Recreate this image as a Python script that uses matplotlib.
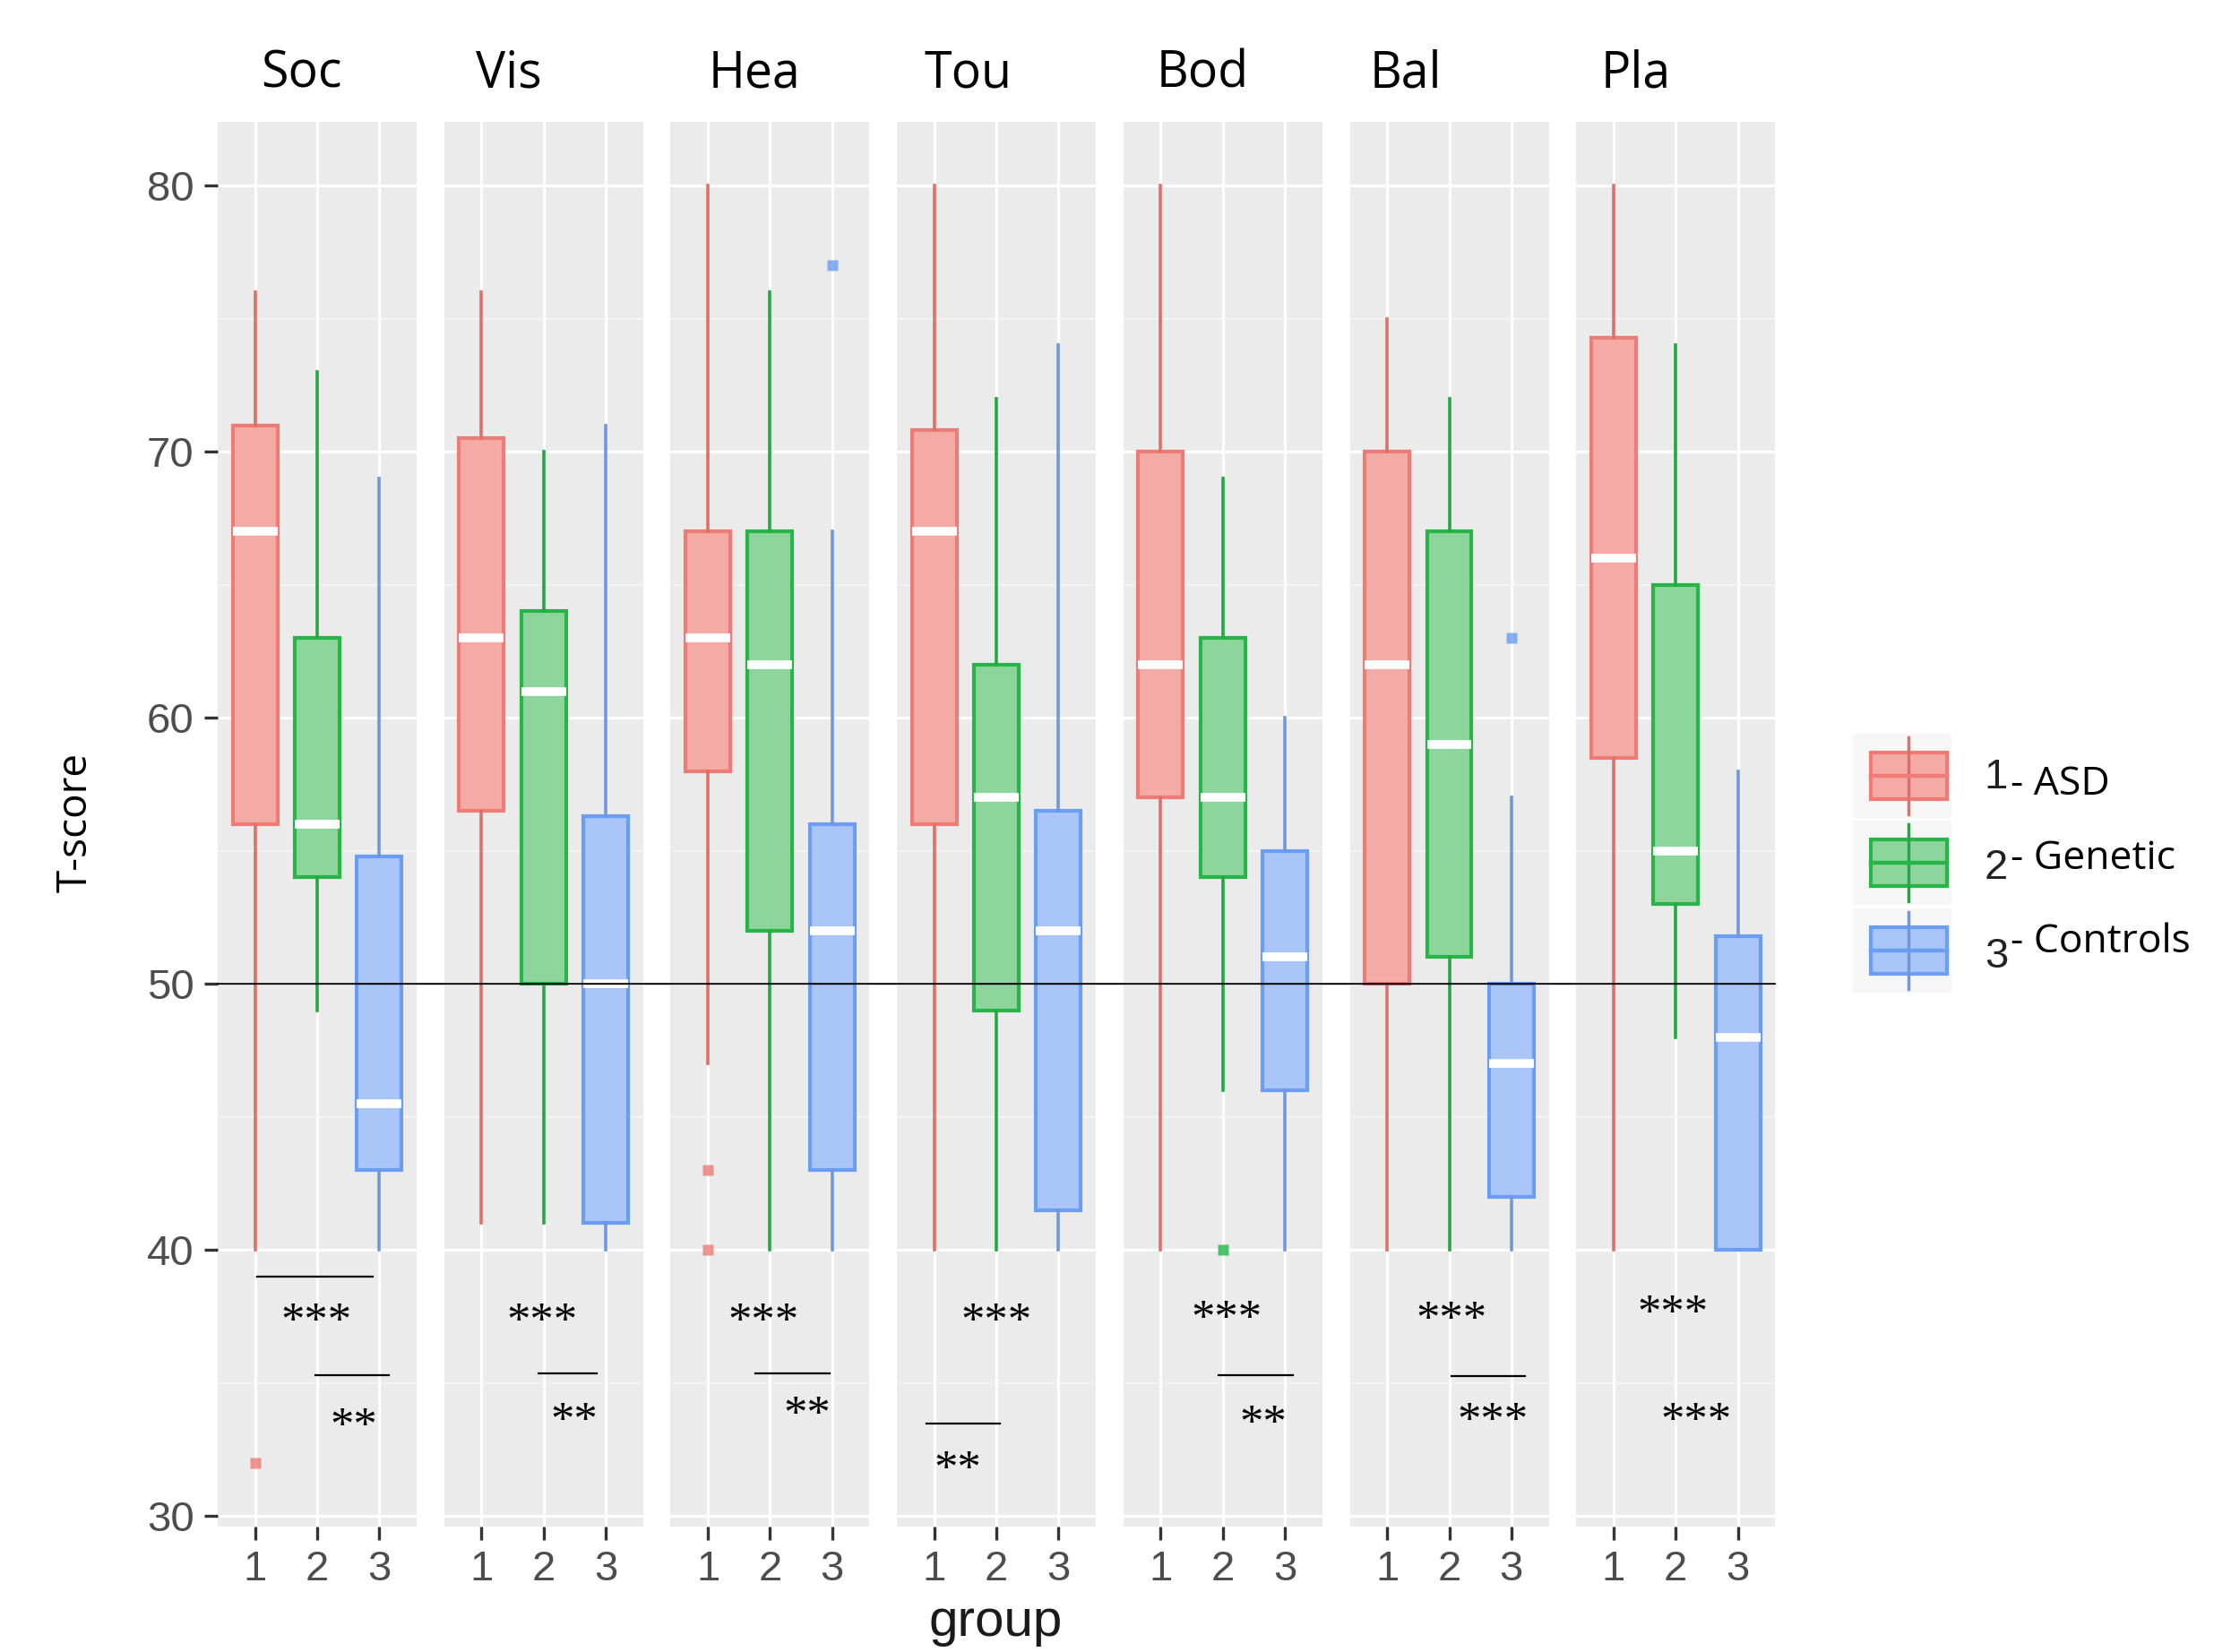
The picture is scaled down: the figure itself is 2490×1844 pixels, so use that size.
import matplotlib
matplotlib.use("Agg")
import matplotlib.pyplot as plt
from matplotlib.patches import Rectangle, ConnectionPatch
from matplotlib.ticker import MultipleLocator

subscales = ["Soc", "Vis", "Hea", "Tou", "Bod", "Bal", "Pla"]
groups = ["1", "2", "3"]
group_names = ["- ASD", "- Genetic", "- Controls"]

# box statistics, one row per subscale, columns = group 1, 2, 3
whis_hi = [[76, 73, 69], [76, 70, 71], [80, 76, 67], [80, 72, 74],
           [80, 69, 60], [75, 72, 57], [80, 74, 58]]
q3 = [[71, 63, 54.8], [70.5, 64, 56.3], [67, 67, 56], [70.8, 62, 56.5],
      [70, 63, 55], [70, 67, 50], [74.3, 65, 51.8]]
median = [[67, 56, 45.5], [63, 61, 50], [63, 62, 52], [67, 57, 52],
          [62, 57, 51], [62, 59, 47], [66, 55, 48]]
q1 = [[56, 54, 43], [56.5, 50, 41], [58, 52, 43], [56, 49, 41.5],
      [57, 54, 46], [50, 51, 42], [58.5, 53, 40]]
whis_lo = [[40, 49, 40], [41, 41, 40], [47, 40, 40], [40, 40, 40],
           [40, 46, 40], [40, 40, 40], [40, 48, 40]]
outliers = [[[32], [], []], [[], [], []], [[43, 40], [], [77]], [[], [], []],
            [[], [40], []], [[], [], [63]], [[], [], []]]

# significance marks (panel, text, x, y) and bars (panel, x0, x1, y)
sig_text = [(0, "***", 1.98, 37.7), (0, "**", 2.59, 33.75),
            (1, "***", 1.98, 37.7), (1, "**", 2.49, 33.95),
            (2, "***", 1.90, 37.7), (2, "**", 2.60, 34.2),
            (3, "***", 2.00, 37.7), (3, "**", 1.37, 32.15),
            (4, "***", 2.06, 37.8), (4, "**", 2.65, 33.85),
            (5, "***", 2.04, 37.75), (5, "***", 2.70, 33.95),
            (6, "***", 1.96, 38.0), (6, "***", 2.33, 33.95)]
sig_bars = [(0, 1.03, 2.89, 39.0), (0, 1.97, 3.15, 35.3),
            (1, 1.92, 2.86, 35.35), (2, 1.76, 2.96, 35.35),
            (3, 0.88, 2.06, 33.47), (4, 1.93, 3.12, 35.3),
            (5, 2.04, 3.22, 35.25)]

fill = ["#F4ABA6", "#8DD59C", "#AAC5F8"]
edge = ["#EC7C75", "#27B548", "#6B9DF2"]
whisk = ["#DC716A", "#25A844", "#6F97DB"]

W, H = 2490, 1844
fig = plt.figure(figsize=(W / 100, H / 100), dpi=100)

axes = []
for i, name in enumerate(subscales):
    ax = fig.add_axes([(243 + i * 252.7) / W, 1 - 1704 / H, 222 / W, (1704 - 136) / H])
    ax.set_facecolor("#EBEBEB")
    for s in ax.spines.values():
        s.set_visible(False)
    ax.set_xlim(0.4, 3.6)
    ax.set_ylim(29.6, 82.4)
    ax.set_axisbelow(True)
    ax.yaxis.set_major_locator(MultipleLocator(10))
    ax.yaxis.set_minor_locator(MultipleLocator(5))
    ax.grid(which="major", color="white", lw=2.3)
    ax.grid(which="minor", axis="y", color="#F6F6F6", lw=1.3)
    ax.set_xticks([1, 2, 3])
    ax.set_xticklabels(groups, family="Liberation Sans", fontsize=34, color="#4D4D4D")
    ax.tick_params(axis="x", length=11, width=2.4, color="#333333", pad=8)
    if i == 0:
        ax.tick_params(axis="y", which="major", length=11, width=2.4, color="#333333",
                       pad=8, labelsize=34, labelcolor="#4D4D4D")
        for lab in ax.get_yticklabels():
            lab.set_family("Liberation Sans")
    else:
        ax.tick_params(axis="y", which="major", length=0, labelleft=False)
    ax.tick_params(axis="y", which="minor", length=0)

    for g in range(3):
        st = dict(med=median[i][g], q1=q1[i][g], q3=q3[i][g],
                  whislo=whis_lo[i][g], whishi=whis_hi[i][g],
                  fliers=outliers[i][g], label=groups[g])
        ax.bxp([st], positions=[g + 1], widths=0.72, patch_artist=True,
               showcaps=False, manage_ticks=False,
               boxprops=dict(facecolor=fill[g], edgecolor=edge[g], lw=3),
               whiskerprops=dict(color=whisk[g], lw=2.6),
               medianprops=dict(color="white", lw=7, solid_capstyle="butt"),
               flierprops=dict(marker="s", markersize=8, markerfacecolor=edge[g],
                               markeredgecolor="none", alpha=0.8))
    axes.append(ax)

for p, x0, x1, y in sig_bars:
    axes[p].plot([x0, x1], [y, y], color="black", lw=1.6, clip_on=False, zorder=5)
for p, t, x, y in sig_text:
    axes[p].annotate(t, (x, y), xytext=(0, -19), textcoords="offset points",
                     ha="center", va="baseline", family="Liberation Serif",
                     fontsize=38, color="black", zorder=6)

# reference line at T = 50 across all panels
fig.add_artist(ConnectionPatch(xyA=(0.4, 50), coordsA=axes[0].transData,
                               xyB=(3.6, 50), coordsB=axes[-1].transData,
                               color="black", lw=1.4))

# strip titles
title_x = [336, 568, 842, 1080, 1342, 1569, 1826]
for name, x in zip(subscales, title_x):
    fig.text(x / W, 1 - 97 / H, name, ha="center", va="baseline",
             family="Open Sans", fontsize=40, color="black")

fig.text(85 / W, 1 - 918 / H, "T-score", rotation=90, ha="center", va="center",
         family="Open Sans", fontsize=33, color="black")
fig.text(1111 / W, 1 - 1826 / H, "group", ha="center", va="baseline",
         family="Liberation Sans", fontsize=42, color="#1A1A1A")

# legend drawn in pixel space
leg = fig.add_axes([0, 0, 1, 1], zorder=10)
leg.set_xlim(0, W)
leg.set_ylim(H, 0)
leg.axis("off")
key_y = [866, 963, 1061]
text_base = [887, 970, 1063]
digit_y = [868, 969, 1068]
for g in range(3):
    cy = key_y[g]
    leg.add_patch(Rectangle((2068, cy - 47), 110, 94, facecolor="#F6F6F6", edgecolor="none"))
    leg.plot([2130, 2130], [cy - 43, cy + 43], color=whisk[g], lw=2.5)
    leg.add_patch(Rectangle((2088, cy - 26), 85, 52, facecolor=fill[g], edgecolor=edge[g], lw=3))
    leg.plot([2088, 2173], [cy, cy], color=edge[g], lw=3.2)
    leg.text(2228, digit_y[g], groups[g], ha="center", va="center",
             family="Liberation Sans", fontsize=34, color="#222222")
    leg.text(2244, text_base[g], group_names[g], ha="left", va="baseline",
             family="Open Sans", fontsize=32, color="black")

fig.savefig("out.png", dpi=100, facecolor="white")
